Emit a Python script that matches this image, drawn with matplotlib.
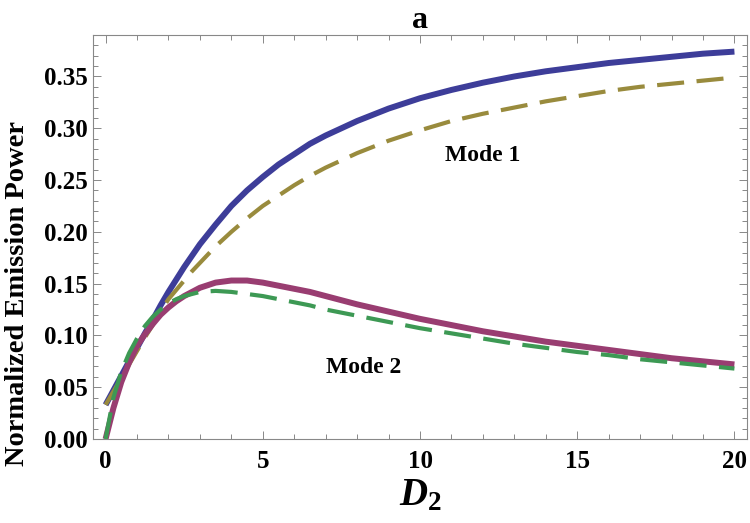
import numpy as np
import matplotlib
matplotlib.use("Agg")
import matplotlib.pyplot as plt
from matplotlib.ticker import MultipleLocator

plt.rcParams['font.family'] = ['Liberation Serif', 'DejaVu Serif']
plt.rcParams['font.weight'] = 'bold'
plt.rcParams['mathtext.fontset'] = 'custom'
plt.rcParams['mathtext.rm'] = 'Liberation Serif:bold'
plt.rcParams['mathtext.it'] = 'Liberation Serif:italic:bold'

# values
d2 = [0, 0.25, 0.5, 0.75, 1, 1.25, 1.5, 1.75, 2, 2.25, 2.5, 2.75, 3, 3.5, 4, 4.5, 5, 5.5,
      6, 6.5, 7, 8, 9, 10, 11, 12, 13, 14, 15, 16, 17, 18, 19, 20]

mode1_solid = [0.033, 0.047, 0.061, 0.075, 0.088, 0.102, 0.115, 0.129, 0.142, 0.154,
               0.166, 0.177, 0.188, 0.207, 0.225, 0.240, 0.253, 0.265, 0.275, 0.285,
               0.293, 0.307, 0.319, 0.329, 0.337, 0.344, 0.350, 0.355, 0.359, 0.363,
               0.366, 0.369, 0.372, 0.374]
mode1_dash = [0.033, 0.046, 0.059, 0.072, 0.085, 0.098, 0.110, 0.123, 0.135, 0.144,
              0.153, 0.162, 0.170, 0.186, 0.200, 0.213, 0.225, 0.235, 0.245, 0.254,
              0.262, 0.276, 0.288, 0.298, 0.307, 0.314, 0.320, 0.326, 0.331, 0.336,
              0.340, 0.343, 0.346, 0.349]
mode2_solid = [0.0, 0.030, 0.055, 0.074, 0.090, 0.101, 0.111, 0.120, 0.127, 0.133,
               0.138, 0.142, 0.146, 0.151, 0.153, 0.153, 0.151, 0.148, 0.145, 0.142,
               0.138, 0.130, 0.123, 0.116, 0.110, 0.104, 0.099, 0.094, 0.090, 0.086,
               0.082, 0.078, 0.075, 0.072]
mode2_dash = [0.0, 0.040, 0.065, 0.083, 0.097, 0.109, 0.118, 0.125, 0.131, 0.135,
              0.138, 0.140, 0.142, 0.143, 0.142, 0.140, 0.138, 0.135, 0.132, 0.129,
              0.125, 0.119, 0.113, 0.107, 0.102, 0.097, 0.092, 0.088, 0.084, 0.081,
              0.077, 0.074, 0.071, 0.068]

blue = (0.24, 0.24, 0.6)
gold = (0.6, 0.547, 0.24)
plum = (0.6, 0.24, 0.442)
green = (0.24, 0.6, 0.33)

fig = plt.figure(figsize=(7.5, 5.23), dpi=100)
ax = fig.add_axes([0.124, 0.1606, 0.872, 0.7724])

ax.plot(d2, mode1_solid, color=blue, lw=4.3, solid_capstyle='butt')
ax.plot(d2, mode1_dash, color=gold, lw=3, dashes=(6.5, 3), dash_capstyle='butt')
ax.plot(d2, mode2_solid, color=plum, lw=4.3, solid_capstyle='butt')
ax.plot(d2, mode2_dash, color=green, lw=3, dashes=(6.5, 3), dash_capstyle='butt')

ax.text(12.0, 0.274, 'Mode 1', fontsize=17, ha='center', va='center')
ax.text(8.2, 0.069, 'Mode 2', fontsize=17, ha='center', va='center')

ax.set_xlim(-0.4, 20.4)
ax.set_ylim(0, 0.39)
ax.xaxis.set_major_locator(MultipleLocator(5))
ax.xaxis.set_minor_locator(MultipleLocator(1))
ax.yaxis.set_major_locator(MultipleLocator(0.05))
ax.yaxis.set_minor_locator(MultipleLocator(0.01))
ax.yaxis.set_major_formatter(plt.FuncFormatter(lambda v, p: f"{v:.2f}"))

for s in ax.spines.values():
    s.set_color('#888888')
    s.set_linewidth(0.8)
ax.tick_params(which='both', direction='in', top=True, right=True, color='#888888',
               labelsize=18, width=0.7)
ax.tick_params(which='major', length=6)
ax.tick_params(which='minor', length=3.5)
ax.tick_params(axis='x', pad=8)

ax.set_title('a', fontsize=23, fontweight='bold', pad=4)
ax.set_ylabel('Normalized Emission Power', fontsize=20.5, fontweight='bold')
ax.yaxis.set_label_coords(-0.097, 0.36)
ax.set_xlabel(r'$D_2$', fontsize=28)
ax.xaxis.set_label_coords(0.5, -0.095)

fig.savefig('out.png', dpi=100)
